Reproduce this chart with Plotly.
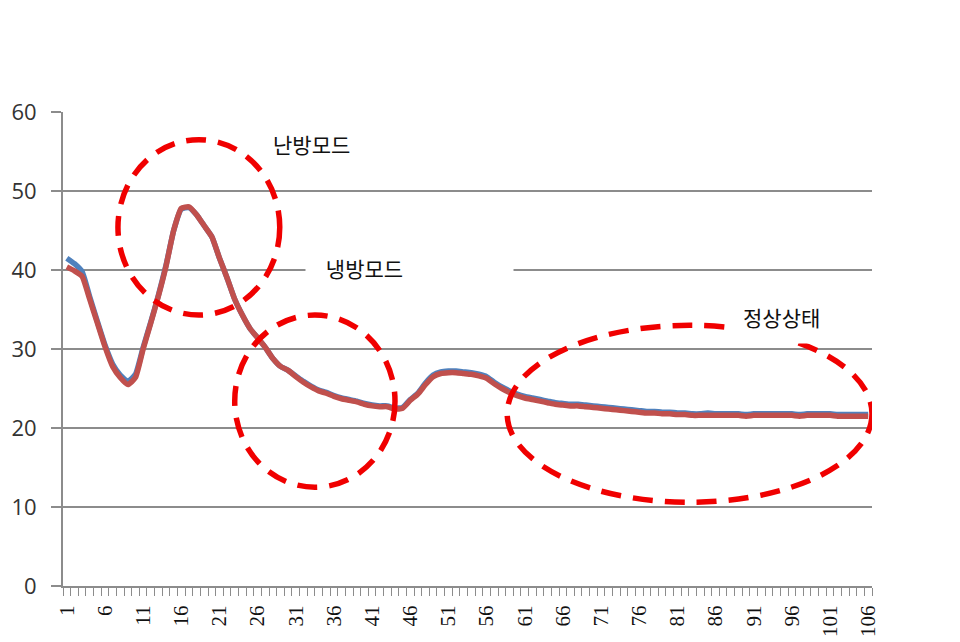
import plotly.graph_objects as go

categories = list(range(1, 107))

red_series = [
    40.4, 39.9, 39.2, 36.3, 33.3, 30.3, 27.8, 26.4, 25.5, 26.4,
    30.0, 33.3, 36.7, 40.5, 45.0, 47.8, 48.0, 47.0, 45.6, 44.2,
    41.5, 39.0, 36.3, 34.3, 32.6, 31.4, 30.2, 28.8, 27.8, 27.3,
    26.5, 25.8, 25.2, 24.7, 24.4, 24.0, 23.7, 23.5, 23.3, 23.0,
    22.8, 22.7, 22.7, 22.4, 22.5, 23.5, 24.3, 25.5, 26.5, 26.9,
    27.0, 27.0, 26.9, 26.8, 26.6, 26.3, 25.6, 25.0, 24.5, 24.1,
    23.8, 23.6, 23.4, 23.2, 23.0, 22.9, 22.8, 22.8, 22.7, 22.6,
    22.5, 22.4, 22.3, 22.2, 22.1, 22.0, 21.9, 21.9, 21.8, 21.8,
    21.7, 21.7, 21.6, 21.6, 21.6, 21.6, 21.6, 21.6, 21.6, 21.5,
    21.6, 21.6, 21.6, 21.6, 21.6, 21.6, 21.5, 21.6, 21.6, 21.6,
    21.6, 21.5, 21.5, 21.5, 21.5, 21.5,
]

blue_series = [
    41.5, 40.8, 39.8, 36.6, 33.5, 30.5, 28.1, 26.7, 25.9, 26.8,
    30.2, 33.4, 36.8, 40.6, 45.0, 47.7, 47.9, 47.0, 45.6, 44.2,
    41.5, 39.0, 36.3, 34.3, 32.6, 31.4, 30.2, 28.8, 27.8, 27.3,
    26.6, 25.9, 25.3, 24.8, 24.5, 24.1, 23.8, 23.6, 23.4, 23.1,
    22.9, 22.8, 22.8, 22.5, 22.6, 23.6, 24.4, 25.7, 26.7, 27.1,
    27.2, 27.2, 27.1, 27.0, 26.8, 26.5, 25.8, 25.2, 24.7, 24.3,
    24.0, 23.8, 23.6, 23.4, 23.2, 23.1, 23.0, 23.0, 22.9, 22.8,
    22.7, 22.6, 22.5, 22.4, 22.3, 22.2, 22.1, 22.1, 22.0, 22.0,
    21.9, 21.9, 21.8, 21.8, 21.9, 21.8, 21.8, 21.8, 21.8, 21.7,
    21.8, 21.8, 21.8, 21.8, 21.8, 21.8, 21.7, 21.8, 21.8, 21.8,
    21.8, 21.7, 21.7, 21.7, 21.7, 21.7,
]

tick_values = list(range(1, 107, 5))
tick_labels = [str(v) for v in tick_values]

GRID = "#8c8c8c"
RED_DASH = "#f00000"

fig = go.Figure()
fig.add_trace(go.Scatter(x=categories, y=blue_series, mode="lines",
                         line=dict(color="#4F81BD", width=5.5, shape="spline", smoothing=0.5),
                         showlegend=False, hoverinfo="skip"))
fig.add_trace(go.Scatter(x=categories, y=red_series, mode="lines",
                         line=dict(color="#C0504D", width=5.5, shape="spline", smoothing=0.5),
                         showlegend=False, hoverinfo="skip"))

ellipse_line = dict(color=RED_DASH, width=5.5, dash="20px,12px")
ellipses = [
    (7.7, 34.3, 28.9, 56.5),
    (23.0, 12.5, 44.0, 34.3),
    (58.7, 10.6, 106.5, 33.0),
]
for x0, y0, x1, y1 in ellipses:
    fig.add_shape(type="circle", xref="x", yref="y", x0=x0, y0=y0, x1=x1, y1=y1,
                  line=ellipse_line, layer="above")

kfont = dict(family="Noto Sans CJK KR", size=21, color="#111111")
fig.add_annotation(x=33.0, y=55.9, text="난방모드", showarrow=False, font=kfont,
                   xanchor="center", yanchor="middle")
fig.add_annotation(x=32.2, y=40.2, text="&nbsp;&nbsp;&nbsp;&nbsp;냉방모드", showarrow=False, font=kfont,
                   xanchor="left", yanchor="middle", width=205, align="left",
                   bgcolor="white", borderpad=1)
fig.add_annotation(x=94.6, y=34.0, text="정상상태", showarrow=False, font=kfont,
                   xanchor="center", yanchor="middle", bgcolor="white", borderpad=11)

fig.update_layout(
    width=960, height=642,
    margin=dict(l=63, r=88, t=112, b=56),
    paper_bgcolor="white", plot_bgcolor="white",
    xaxis=dict(
        range=[0.5, 106.5], tickmode="array", tickvals=tick_values, ticktext=tick_labels,
        tickangle=-90, ticks="", showgrid=False, zeroline=False, automargin=False,
        showline=True, linecolor=GRID, linewidth=2,
        ticklabelstandoff=9,
        tickfont=dict(family="Liberation Serif", size=21, color="#111111"),
        minor=dict(ticks="outside", ticklen=8, tickcolor=GRID, tickwidth=1,
                   tickmode="linear", tick0=0.5, dtick=1, showgrid=False),
    ),
    yaxis=dict(
        range=[0, 60], tickmode="linear", tick0=0, dtick=10, automargin=False,
        showgrid=True, gridcolor=GRID, gridwidth=2, zeroline=False,
        showline=True, linecolor=GRID, linewidth=2,
        ticks="outside", ticklen=10, tickcolor=GRID, tickwidth=2,
        ticklabelstandoff=10,
        tickfont=dict(family="Open Sans", size=22, color="#333333"),
    ),
)

fig.write_html("out.html")
